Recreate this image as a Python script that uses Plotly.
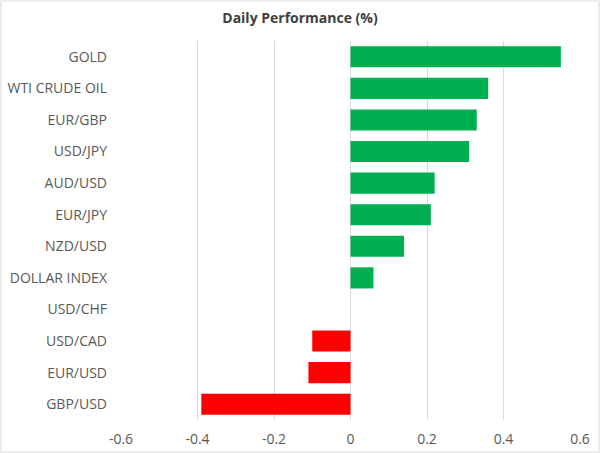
import plotly.graph_objects as go

# Daily performance (%) per instrument, top to bottom as shown
instruments = ["GOLD", "WTI CRUDE OIL", "EUR/GBP", "USD/JPY", "AUD/USD", "EUR/JPY",
               "NZD/USD", "DOLLAR INDEX", "USD/CHF", "USD/CAD", "EUR/USD", "GBP/USD"]
performance = [0.55, 0.36, 0.33, 0.31, 0.22, 0.21, 0.14, 0.06, 0.0, -0.10, -0.11, -0.39]
x_ticks = [-0.6, -0.4, -0.2, 0, 0.2, 0.4, 0.6]

colors = ["#00B050" if v >= 0 else "#FF0000" for v in performance]

W, H = 600, 453
ml, mr, mt, mb = 121, 20, 41, 33

fig = go.Figure(go.Bar(
    x=performance,
    y=instruments,
    orientation="h",
    marker=dict(color=colors, line=dict(width=0)),
    width=0.67,
))

fig.update_layout(
    width=W, height=H,
    margin=dict(l=ml, r=mr, t=mt, b=mb),
    paper_bgcolor="white",
    plot_bgcolor="white",
    showlegend=False,
    font=dict(family="Open Sans, Liberation Sans, sans-serif", size=14, color="#595959"),
    title=dict(text="<b>Daily Performance (%)</b>", x=0.5, xanchor="center",
               y=1 - 18 / H, yanchor="middle",
               font=dict(size=14, color="#404040")),
    xaxis=dict(range=[-0.6, 0.6], tickvals=x_ticks,
               ticktext=[("%g" % t) for t in x_ticks],
               showgrid=True, gridcolor="#D9D9D9", gridwidth=1,
               zeroline=False, showline=False, ticks="", automargin=False,
               ticklabelstandoff=9, fixedrange=True),
    yaxis=dict(categoryorder="array", categoryarray=instruments[::-1],
               showgrid=False, zeroline=False, showline=False, ticks="",
               automargin=False, ticklabelstandoff=13, fixedrange=True),
)

# light grey border around the whole chart
pw, ph = W - ml - mr, H - mt - mb
fig.add_shape(type="rect", xref="paper", yref="paper",
              x0=(-ml + 1) / pw, x1=1 + (mr - 1) / pw,
              y0=(-mb + 1) / ph, y1=1 + (mt - 1) / ph,
              line=dict(color="#D9D9D9", width=1), layer="below")

fig.write_html("out.html", post_script="document.body.style.margin='0';",
               config={"displayModeBar": False})
